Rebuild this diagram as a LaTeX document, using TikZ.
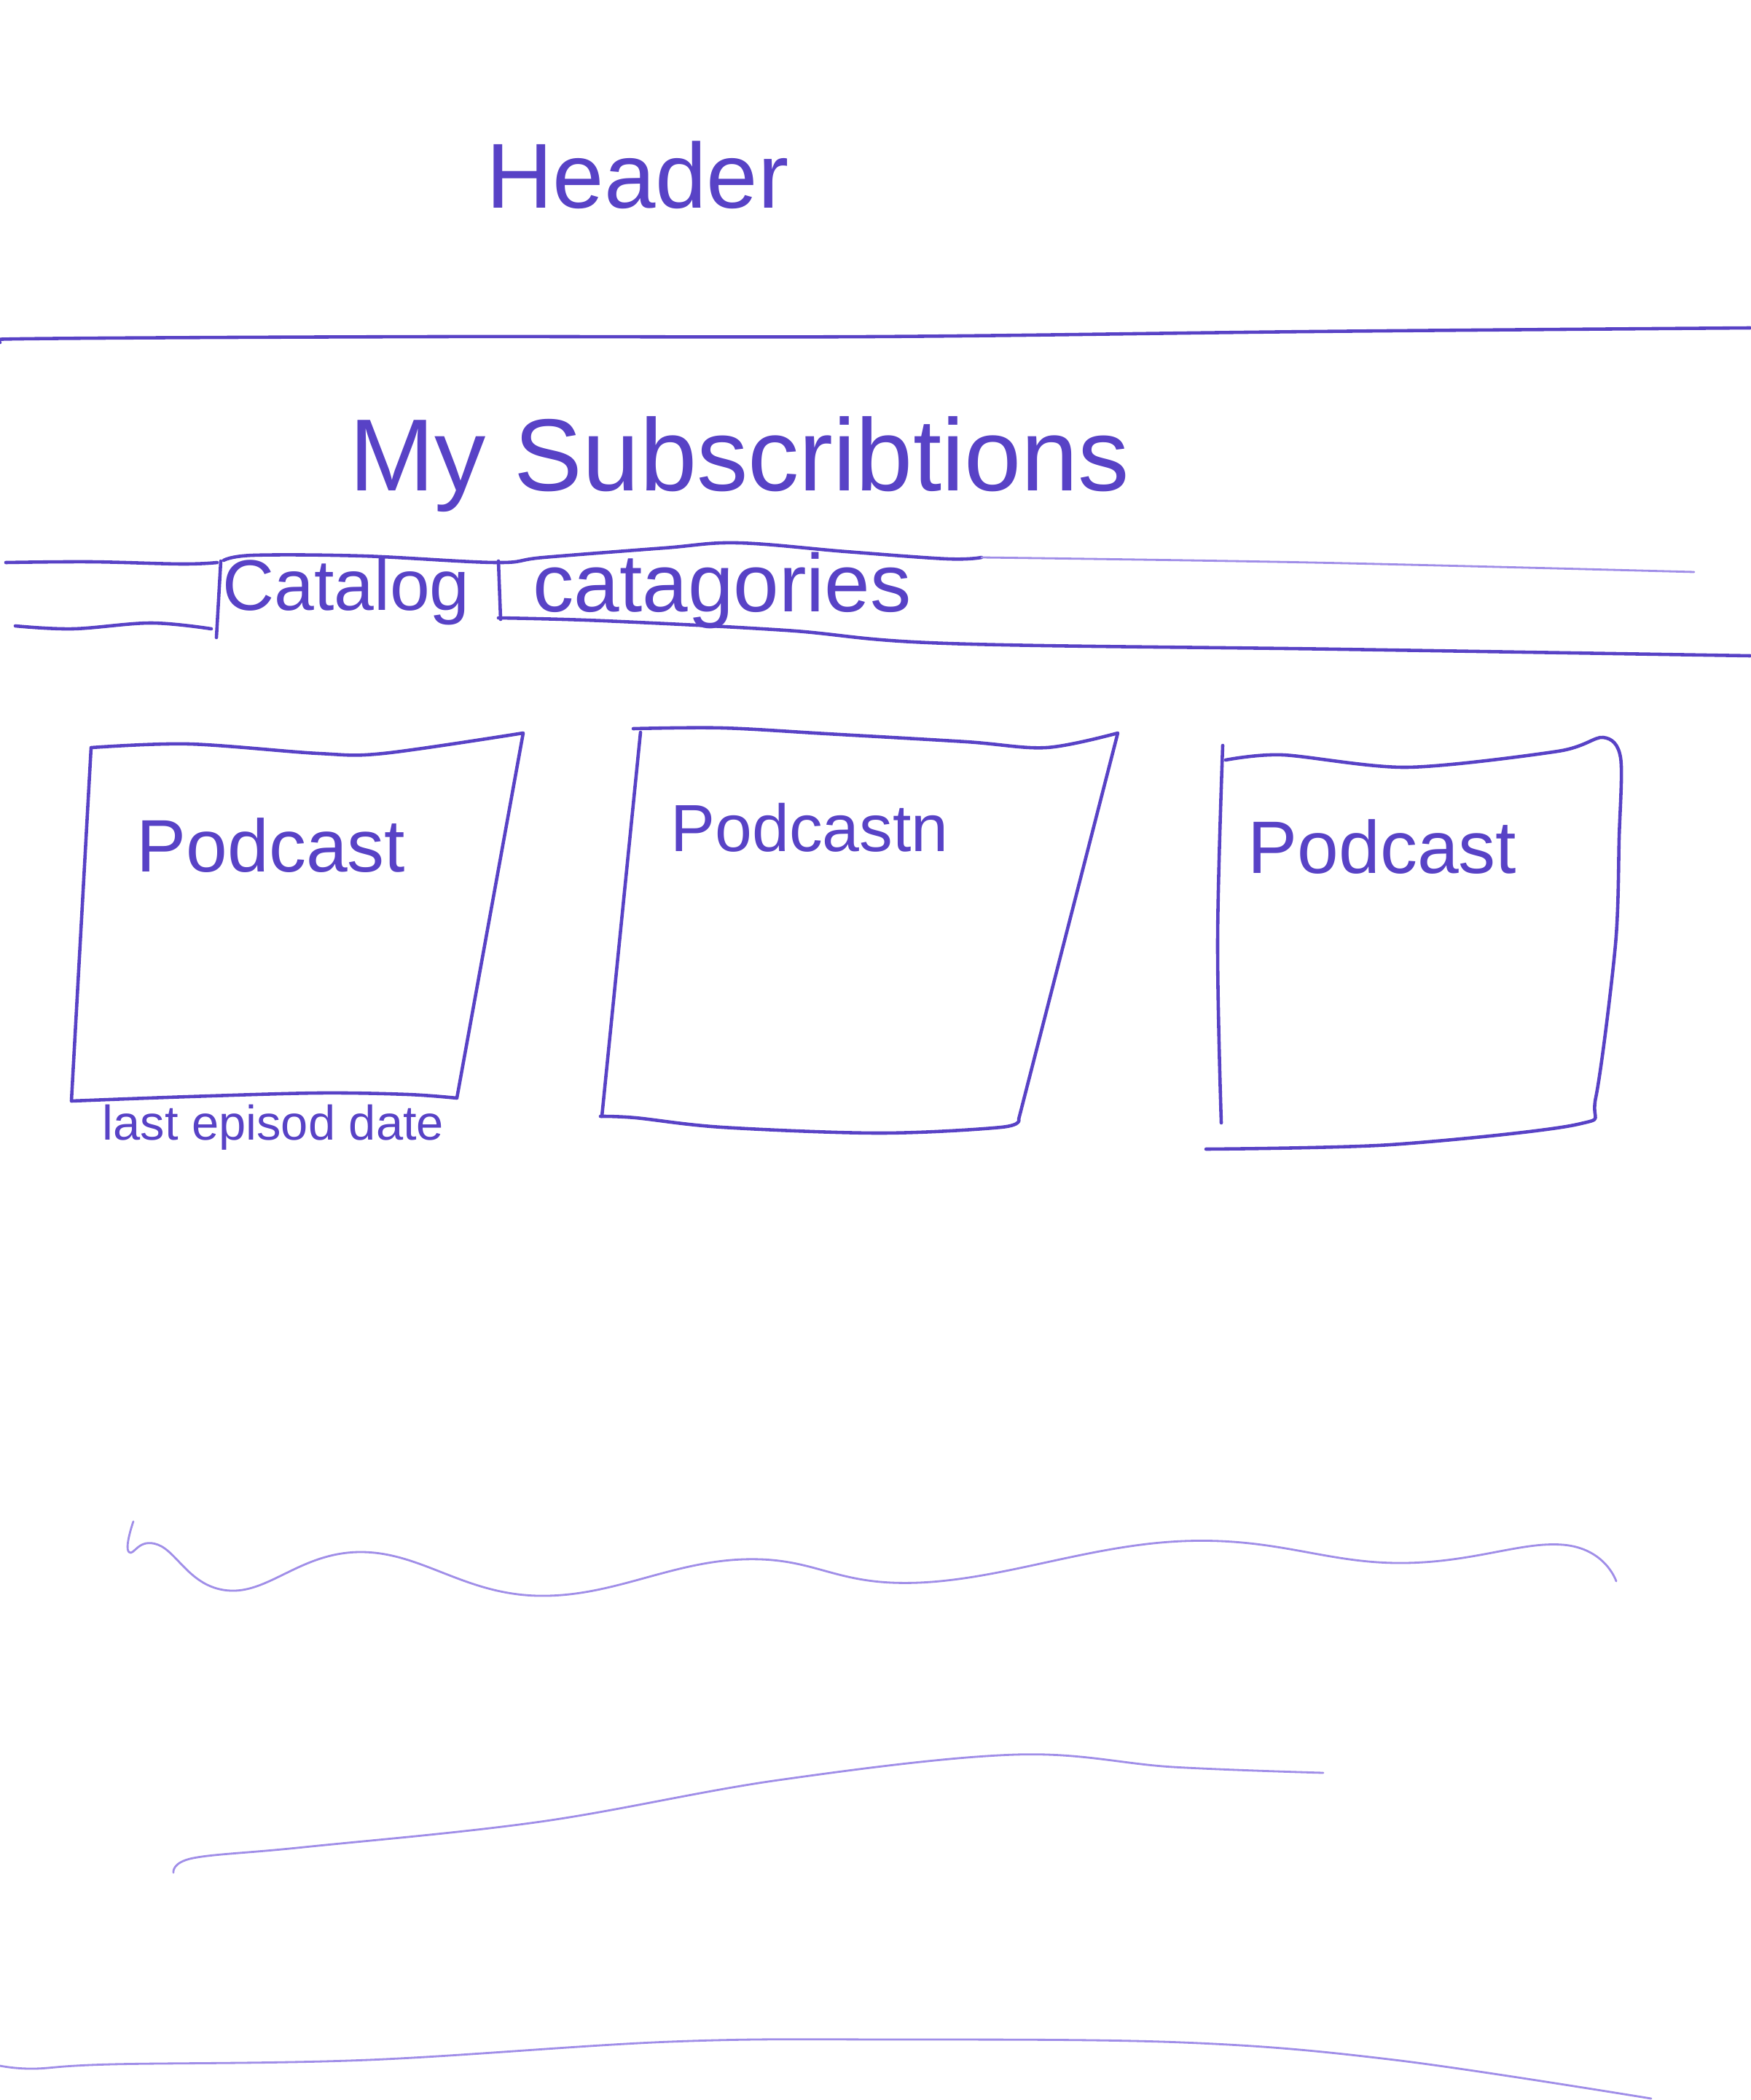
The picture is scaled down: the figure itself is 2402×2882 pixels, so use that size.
\documentclass[tikz,border=0pt]{standalone}
\usepackage{fontspec}
\setmainfont{Liberation Sans}
\definecolor{ink}{RGB}{88,66,198}
\definecolor{faint}{RGB}{160,142,232}
\tikzset{
  pen/.style={draw=ink, line width=1.3pt, line cap=round, line join=round},
  thinpen/.style={draw=faint, line width=0.8pt, line cap=round, line join=round},
  hand/.style={text=ink, inner sep=0pt, font=\fontsize{#1}{#1}\selectfont}
}
\begin{document}
\begin{tikzpicture}[x=0.01cm, y=-0.01cm]
\useasboundingbox (0,0) rectangle (2402,2882);
\fill[white] (0,0) rectangle (2402,2882);

% header area
\node[hand=36] (header) at (875,240) {Header};
\draw[pen] plot[smooth, tension=0.6] coordinates {(0,470) (30,465) (600,462) (1195,462) (1800,455) (2402,450)};

% page title
\node[hand=40] (subs) at (1015,637) {My Subscribtions};

% tab bar
\draw[pen] plot[smooth, tension=0.6] coordinates {(8,772) (124,771) (249,774) (298,772)};
\draw[pen] plot[smooth, tension=0.6] coordinates {(21,859) (100,863) (207,855) (290,863)};
\draw[pen] (303,770) -- (297,875);
\draw[pen] plot[smooth, tension=0.6] coordinates {(307,769) (348,762) (498,763) (680,772) (746,765) (912,752) (1012,745) (1161,757) (1300,767) (1347,765)};
\draw[thinpen] plot[smooth, tension=0.6] coordinates {(1347,765) (1800,772) (2325,785)};
\draw[pen] (684,770) -- (687,850);
\draw[pen] plot[smooth, tension=0.6] coordinates {(684,848) (829,852) (1078,865) (1300,883) (1838,891) (2402,900)};
\node[hand=28] (catalog) at (475,812) {Catalog};
\node[hand=32] (catagories) at (991,810) {catagories};

% podcast card 1
\draw[pen] plot[smooth, tension=0.55] coordinates {(125,1026) (259,1021) (437,1034) (526,1034) (718,1006)}
  -- (627,1507)
  -- plot[smooth, tension=0.55] coordinates {(627,1507) (560,1502) (437,1500) (259,1505) (98,1511)}
  -- (125,1026);
\node[hand=29] (pod1) at (372,1160) {Podcast};
\node[hand=19] (date1) at (375,1547) {last episod date};

% podcast card 2
\draw[pen] plot[smooth, tension=0.55] coordinates {(869,1000) (991,999) (1135,1007) (1326,1018) (1436,1026) (1534,1006)}
  -- (1398,1536)
  -- plot[smooth, tension=0.55] coordinates {(1398,1536) (1374,1547) (1207,1555) (991,1547) (872,1534) (824,1532)};
\draw[pen] (826,1532) -- (879,1005);
\node[hand=26] (pod2) at (1111,1136) {Podcastn};

% podcast card 3
\draw[pen] plot[smooth, tension=0.6] coordinates {(1678,1023) (1671,1290) (1676,1541)};
\draw[pen] plot[smooth, tension=0.5] coordinates {(1682,1043) (1760,1036) (1931,1053) (2138,1031) (2200,1012) (2224,1040) (2222,1150) (2217,1296) (2190,1506) (2165,1543) (1908,1571) (1655,1577)};
\node[hand=29] (pod3) at (1897,1162) {Podcast};

% lower scribbles
\draw[thinpen] plot[smooth, tension=0.7] coordinates {(183,2088) (177,2130) (217,2120) (317,2183) (498,2130) (739,2190) (1020,2140) (1261,2172) (1623,2115) (1917,2145) (2145,2120) (2218,2170)};
\draw[thinpen] plot[smooth, tension=0.6] coordinates {(238,2570) (265,2550) (417,2535) (742,2500) (1068,2443) (1393,2408) (1610,2425) (1816,2433)};
\draw[thinpen] plot[smooth, tension=0.6] coordinates {(0,2835) (46,2839) (153,2833) (505,2827) (919,2802) (1225,2799) (1623,2803) (1914,2827) (2266,2880)};
\end{tikzpicture}
\end{document}
